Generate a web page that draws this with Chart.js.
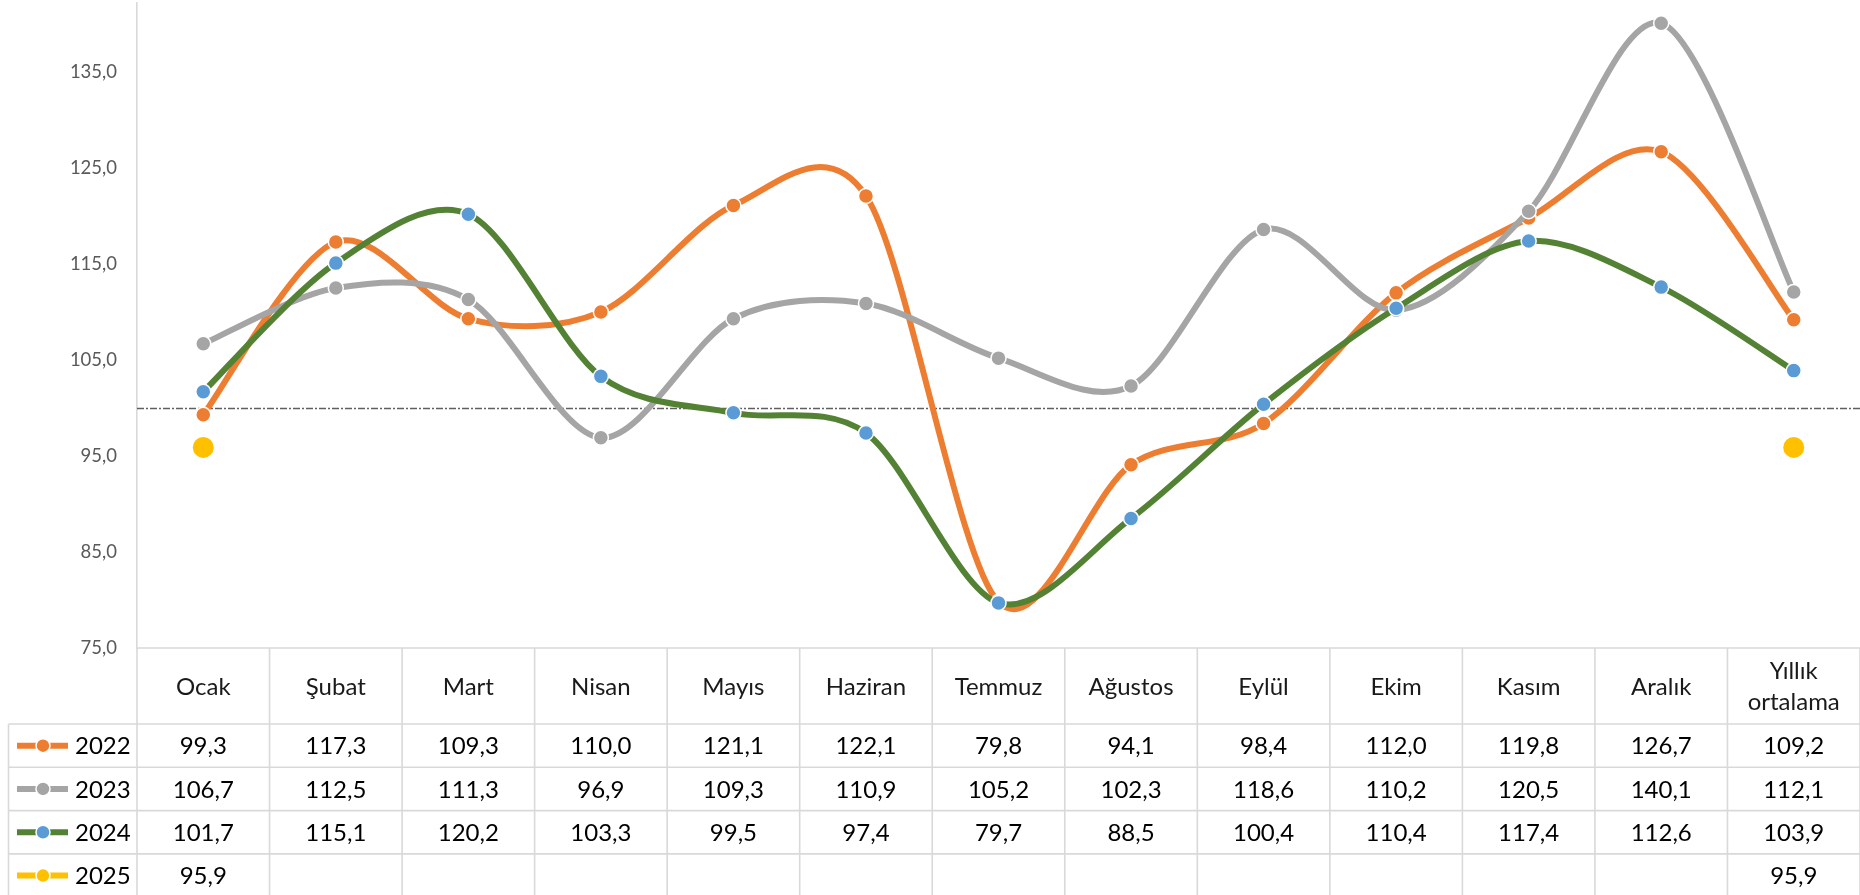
<!DOCTYPE html>
<html>
<head>
<meta charset="utf-8">
<script src="https://cdn.jsdelivr.net/npm/chart.js@4.4.1/dist/chart.umd.min.js"></script>
<style>
html,body{margin:0;padding:0;background:#fff;overflow:hidden}
#wrap{width:1860px;height:895px;position:relative}
</style>
</head>
<body>
<div id="wrap"><canvas id="c"></canvas></div>
<script>
// ---- data ----
const categories = ['Ocak','Şubat','Mart','Nisan','Mayıs','Haziran','Temmuz','Ağustos','Eylül','Ekim','Kasım','Aralık',['Yıllık','ortalama']];
const seriesNames = ['2022','2023','2024','2025'];
const v2022 = [99.3,117.3,109.3,110.0,121.1,122.1,79.8,94.1,98.4,112.0,119.8,126.7,109.2];
const v2023 = [106.7,112.5,111.3,96.9,109.3,110.9,105.2,102.3,118.6,110.2,120.5,140.1,112.1];
const v2024 = [101.7,115.1,120.2,103.3,99.5,97.4,79.7,88.5,100.4,110.4,117.4,112.6,103.9];
const v2025 = [95.9,null,null,null,null,null,null,null,null,null,null,null,95.9];
const yTicks = [75,85,95,105,115,125,135];
const yMin = 75, yMax = 142.2;
const refValue = 100;

// ---- styles ----
const FONT = 'Lato, "Open Sans", sans-serif';
const colors = {
  '2022': {line:'#ED7D31', point:'#ED7D31'},
  '2023': {line:'#A5A5A5', point:'#A5A5A5'},
  '2024': {line:'#548235', point:'#5B9BD5'},
  '2025': {line:'#FFC000', point:'#FFC000'}
};
const allSeries = [v2022, v2023, v2024, v2025];
const fmt = v => (v === null || v === undefined) ? '' : v.toFixed(1).replace('.', ',');

// Excel-like smoothing (uniform Catmull-Rom in pixel space)
const SMOOTH = 0.155;
const smoothPlugin = {
  id: 'excelSmooth',
  beforeDatasetsDraw(chart) {
    chart.getSortedVisibleDatasetMetas().forEach(meta => {
      const line = meta.dataset;
      if (!line || meta.type !== 'line') return;
      if (!chart.data.datasets[meta.index].showLine) return;
      if (typeof line.updateControlPoints === 'function') line.updateControlPoints(chart.chartArea, 'x');
      const pts = meta.data;
      const n = pts.length;
      for (let i = 0; i < n; i++) {
        const p = pts[i];
        const prev = pts[Math.max(0, i - 1)];
        const next = pts[Math.min(n - 1, i + 1)];
        const dx = (next.x - prev.x) * SMOOTH;
        const dy = (next.y - prev.y) * SMOOTH;
        p.cp1x = p.x - dx; p.cp1y = p.y - dy;
        p.cp2x = p.x + dx; p.cp2y = p.y + dy;
      }
      line._pointsUpdated = true;
      line._path = undefined;
    });
  }
};

const refLinePlugin = {
  id: 'refLine',
  beforeDatasetsDraw(chart) {
    const {ctx, chartArea:{left, right}, scales:{y}} = chart;
    const py = Math.round(y.getPixelForValue(refValue)) + 0.5;
    ctx.save();
    ctx.strokeStyle = '#5F5F5F';
    ctx.lineWidth = 1.5;
    ctx.setLineDash([7, 2, 2, 2]);
    ctx.beginPath();
    ctx.moveTo(left, py);
    ctx.lineTo(right, py);
    ctx.stroke();
    ctx.restore();
  }
};

const tablePlugin = {
  id: 'dataTable',
  afterDraw(chart) {
    const {ctx, chartArea:{left, right, bottom}, scales:{x}} = chart;
    const n = categories.length;
    const colW = (right - left) / n;
    const headerH = 76;
    const rowH = 43.3;
    const legendLeft = 8.5;
    const rowsTop = bottom + headerH;
    const tableBottom = rowsTop + rowH * seriesNames.length + 5;
    ctx.save();
    ctx.strokeStyle = '#D9D9D9';
    ctx.lineWidth = 1.6;
    ctx.beginPath();
    ctx.moveTo(left, bottom); ctx.lineTo(right, bottom);
    for (let r = 0; r < seriesNames.length; r++) {
      const yy = rowsTop + r * rowH;
      ctx.moveTo(legendLeft, yy); ctx.lineTo(right, yy);
    }
    for (let i = 0; i <= n; i++) {
      const xx = left + i * colW;
      ctx.moveTo(xx, bottom); ctx.lineTo(xx, tableBottom);
    }
    ctx.moveTo(legendLeft, rowsTop); ctx.lineTo(legendLeft, tableBottom);
    ctx.stroke();

    ctx.fillStyle = '#1a1a1a';
    ctx.font = '24px ' + FONT;
    ctx.textAlign = 'center';
    ctx.textBaseline = 'middle';
    categories.forEach((c, i) => {
      const cx = x.getPixelForTick(i);
      const cy = bottom + headerH / 2 + 1;
      if (Array.isArray(c)) {
        const lh = 31;
        c.forEach((t, k) => ctx.fillText(t, cx, cy + (k - (c.length - 1) / 2) * lh));
      } else {
        ctx.fillText(c, cx, cy);
      }
    });

    seriesNames.forEach((name, r) => {
      const cy = rowsTop + r * rowH + rowH / 2 + 1;
      const col = colors[name];
      ctx.save();
      ctx.strokeStyle = col.line;
      ctx.lineWidth = 6;
      ctx.beginPath();
      ctx.moveTo(17, cy - 1); ctx.lineTo(68, cy - 1);
      ctx.stroke();
      ctx.beginPath();
      ctx.arc(43, cy - 1, 7, 0, Math.PI * 2);
      ctx.fillStyle = col.point;
      ctx.fill();
      ctx.lineWidth = 1.5;
      ctx.strokeStyle = '#fff';
      ctx.stroke();
      ctx.restore();
      ctx.fillStyle = '#000';
      ctx.textAlign = 'left';
      ctx.fillText(name, 75, cy);
      ctx.textAlign = 'center';
      allSeries[r].forEach((v, i) => {
        ctx.fillText(fmt(v), x.getPixelForTick(i), cy);
      });
    });
    ctx.restore();
  }
};

const lineDs = (name, data, order) => ({
  label: name,
  data: data,
  borderColor: colors[name].line,
  backgroundColor: colors[name].point,
  borderWidth: 6,
  tension: 0.4,
  pointRadius: 7.5,
  pointHoverRadius: 7.5,
  pointBackgroundColor: colors[name].point,
  pointBorderColor: '#FFFFFF',
  pointBorderWidth: 1.5,
  showLine: true,
  order: order,
  clip: false
});

const datasets = [
  lineDs('2022', v2022, 4),
  lineDs('2023', v2023, 3),
  lineDs('2024', v2024, 2),
  {
    label: '2025',
    data: v2025,
    borderColor: colors['2025'].line,
    backgroundColor: colors['2025'].point,
    showLine: false,
    pointRadius: 10.5,
    pointHoverRadius: 10.5,
    pointBackgroundColor: colors['2025'].point,
    pointBorderColor: colors['2025'].point,
    pointBorderWidth: 0,
    order: 1,
    clip: false
  }
];

new Chart(document.getElementById('c'), {
  type: 'line',
  data: { labels: categories, datasets },
  options: {
    responsive: true,
    maintainAspectRatio: false,
    devicePixelRatio: 1,
    animation: false,
    events: [],
    layout: { padding: { left: 0, right: 0, top: 3, bottom: 247 }, autoPadding: false },
    plugins: { legend: { display: false }, tooltip: { enabled: false } },
    scales: {
      x: {
        type: 'category',
        offset: true,
        display: false,
        grid: { display: false }
      },
      y: {
        min: yMin,
        max: yMax,
        afterBuildTicks: (scale) => { scale.ticks = yTicks.map(v => ({ value: v })); },
        afterFit: (scale) => { scale.width = 137; scale.paddingTop = 0; scale.paddingBottom = 0; },
        grid: { display: false, drawTicks: false },
        border: { display: true, color: '#D9D9D9', width: 1.6 },
        ticks: {
          padding: 20,
          color: '#595959',
          font: { family: FONT, size: 18.5 },
          callback: (v) => fmt(v)
        }
      }
    }
  },
  plugins: [smoothPlugin, refLinePlugin, tablePlugin]
});
</script>
</body>
</html>
